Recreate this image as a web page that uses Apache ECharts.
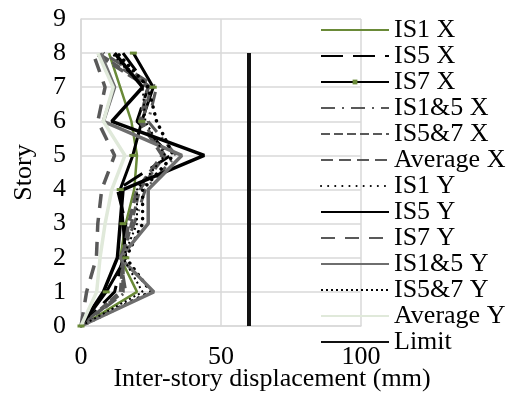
<!DOCTYPE html>
<html><head><meta charset="utf-8">
<script src="https://cdn.jsdelivr.net/npm/echarts@6/dist/echarts.min.js"></script>
<style>html,body{margin:0;padding:0;background:#fff}#c{width:518px;height:394px}</style>
</head><body><div id="c"></div>
<script>
const stories = [0,1,2,3,4,5,6,7,8];
const IS1_X   = [0, 20, 14, 16, 19, 20, 18, 14, 10];
const IS5_X   = [0, 12, 15, 16, 13, 32, 20, 24, 15];
const IS7_X   = [0, 9, 16, 15, 14, 18.5, 21.7, 25.8, 18.7];
const IS15_X  = [0, 16, 14, 19, 23, 34, 24, 27, 8];
const IS57_X  = [0, 14, 15, 18, 21, 30, 22, 25, 6];
const AVG_X   = [0, 15, 15, 17, 20, 29, 21, 24, 5];
const IS1_Y   = [0, 25, 16, 22, 22, 33, 27, 24, 13];
const IS5_Y   = [0, 8, 13, 14, 15, 44, 11, 22, 12];
const IS7_Y   = [0, 2, 5.5, 6, 7.4, 12, 6, 8.6, 4.3];
const IS15_Y  = [0, 26, 14, 24, 24, 36, 8, 12, 7];
const IS57_Y  = [0, 22, 15, 20, 20, 30, 23, 22, 11];
const AVG_Y   = [0, 5.6, 6.8, 8.6, 11, 15.7, 8, 11.5, 6];
const LIMIT   = [60, 60, 60, 60, 60, 60, 60, 60, 60];
const xTicks = [0, 50, 100];
const yTicks = [0,1,2,3,4,5,6,7,8,9];

const FONT = 'Liberation Serif';
const FS = 26;
const pts = arr => arr.map((v,i)=>[v, stories[i]]);
function mk(name, data, color, width, type, extra){
  return Object.assign({
    name, type:'line', data: pts(data), symbol:'none', z: 3,
    lineStyle:{color, width, type, cap:'butt'},
    itemStyle:{color}, emphasis:{disabled:true}, animation:false
  }, extra||{});
}
const series = [
  mk('IS1 X', IS1_X, '#6a8a38', 2.5, 'solid'),
  mk('IS5 X', IS5_X, '#000', 3, [22,10]),
  mk('IS7 X', IS7_X, '#000', 3, 'solid', {symbol:'rect', symbolSize:[7,3], itemStyle:{color:'#6a8a38'}}),
  mk('IS1&5 X', IS15_X, '#595959', 3, [14,7,2,7]),
  mk('IS5&7 X', IS57_X, '#595959', 3, [9,4]),
  mk('Average X', AVG_X, '#595959', 3.5, [12,6]),
  mk('IS1 Y', IS1_Y, '#000', 3, [0.1,7], {lineStyle:{color:'#000',width:3.5,type:[0.1,7],cap:'round'}}),
  mk('IS5 Y', IS5_Y, '#000', 3.5, 'solid'),
  mk('IS7 Y', IS7_Y, '#595959', 3.5, [14,10]),
  mk('IS1&5 Y', IS15_Y, '#6e6e6e', 3.5, 'solid'),
  mk('IS5&7 Y', IS57_Y, '#000', 2, [2,3]),
  mk('Average Y', AVG_Y, '#e0e9da', 3.5, 'solid'),
  mk('Limit', LIMIT, '#111', 4, 'solid')
];
const legendData = series.map(s => s.name === 'IS7 X'
  ? {name:s.name, itemStyle:{opacity:1}}
  : {name:s.name});
const chart = echarts.init(document.getElementById('c'), null, {renderer:'canvas'});
chart.setOption({
  animation:false,
  backgroundColor:'#fff',
  grid:{left:81, top:19, width:280, height:307, containLabel:false, outerBoundsMode:'none'},
  xAxis:{type:'value', min:xTicks[0], max:xTicks[xTicks.length-1], interval:50,
    name:'Inter-story displacement (mm)', nameLocation:'middle', nameGap:40, nameMoveOverlap:false,
    nameTextStyle:{fontFamily:FONT, fontSize:FS, color:'#000', padding:[0,0,0,102]},
    axisLine:{show:true, lineStyle:{color:'#d9d9d9', width:1.5}}, axisTick:{show:false},
    axisLabel:{fontFamily:FONT, fontSize:FS, color:'#000', margin:18},
    splitLine:{show:true, lineStyle:{color:'#d9d9d9', width:1.5}}},
  yAxis:{type:'value', min:yTicks[0], max:yTicks[yTicks.length-1], interval:1,
    name:'Story', nameLocation:'middle', nameGap:44, nameRotate:90, nameMoveOverlap:false,
    nameTextStyle:{fontFamily:FONT, fontSize:FS, color:'#000'},
    axisLine:{show:true, lineStyle:{color:'#d9d9d9', width:1.5}}, axisTick:{show:false},
    axisLabel:{fontFamily:FONT, fontSize:FS, color:'#000', margin:15},
    splitLine:{show:true, lineStyle:{color:'#d9d9d9', width:1.5}}},
  legend:{orient:'vertical', left:320, top:17, itemWidth:68, itemHeight:6, itemGap:0,
    selectedMode:false, padding:0,
    itemStyle:{opacity:0},
    textStyle:{fontFamily:FONT, fontSize:FS, color:'#000', lineHeight:26},
    data: legendData},
  series
});
</script></body></html>
